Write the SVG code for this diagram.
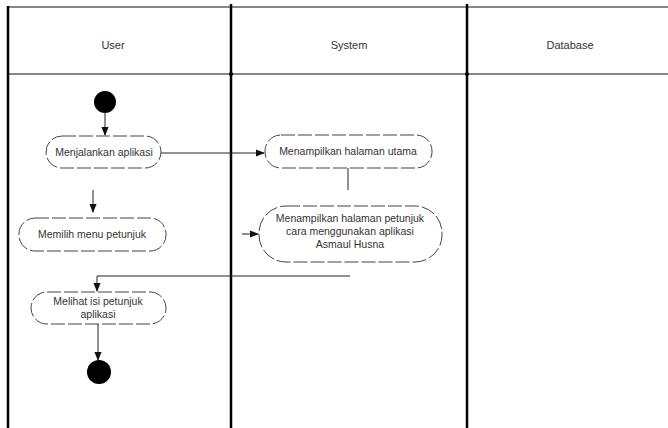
<svg xmlns="http://www.w3.org/2000/svg" width="668" height="428" viewBox="0 0 668 428">
<defs>
<style>
.lane{stroke:#000;stroke-width:2.5;fill:none}
.hl{stroke:#111;stroke-width:1.2;fill:none}
.hdr{font-family:"Liberation Sans",Arial,sans-serif;font-size:11px;fill:#333;text-anchor:middle}
.act{fill:#fff;stroke:#444;stroke-width:1;stroke-dasharray:14 3}
.lbl{font-family:"Liberation Sans",Arial,sans-serif;font-size:10.5px;fill:#333;text-anchor:middle}
.edge{stroke:#222;stroke-width:1;fill:none}
.dot{fill:#000}
</style>
<marker id="arr" viewBox="0 0 10 10" refX="9" refY="5" markerWidth="9" markerHeight="9" orient="auto" markerUnits="userSpaceOnUse">
<path d="M0,1 L10,5 L0,9 z" fill="#111"/>
</marker>
</defs>
<rect width="668" height="428" fill="#fff"/>
<g id="lanes">
<line class="hl" x1="8" y1="7" x2="668" y2="7"/>
<line class="hl" x1="8" y1="74" x2="668" y2="74"/>
<line class="lane" x1="8" y1="6" x2="8" y2="428" stroke-width="2"/>
<line class="lane" x1="231" y1="4" x2="231" y2="428"/>
<line class="lane" x1="467" y1="4" x2="467" y2="428"/>
<circle cx="231" cy="74" r="2" class="dot"/>
<circle cx="467" cy="74" r="2" class="dot"/>
<text class="hdr" x="113" y="49">User</text>
<text class="hdr" x="349" y="49">System</text>
<text class="hdr" x="570" y="49">Database</text>
</g>
<g id="connectors">
<line class="edge" x1="105" y1="113" x2="105" y2="135" marker-end="url(#arr)"/>
<line class="edge" x1="161" y1="153" x2="264" y2="153" marker-end="url(#arr)"/>
<line class="edge" x1="348" y1="168" x2="348" y2="190"/>
<line class="edge" x1="93" y1="190" x2="93" y2="212" marker-end="url(#arr)"/>
<line class="edge" x1="242" y1="234" x2="258" y2="234" marker-end="url(#arr)"/>
<polyline class="edge" points="350,276 97,276 97,291" marker-end="url(#arr)"/>
<line class="edge" x1="98" y1="324" x2="98" y2="360" marker-end="url(#arr)"/>
</g>
<g id="start"><circle cx="105" cy="102" r="11" class="dot"/></g>
<g id="n1">
<rect class="act" x="46" y="136" width="115" height="32" rx="16"/>
<text class="lbl" x="104" y="156">Menjalankan aplikasi</text>
</g>
<g id="n2">
<rect class="act" x="265" y="135" width="167" height="33" rx="16"/>
<text class="lbl" x="348" y="155">Menampilkan halaman utama</text>
</g>
<g id="n3">
<rect class="act" x="19" y="218" width="147" height="33" rx="16"/>
<text class="lbl" x="92" y="238">Memilih menu petunjuk</text>
</g>
<g id="n4">
<rect class="act" x="259" y="206" width="183" height="56" rx="27"/>
<text class="lbl" x="350" y="222">Menampilkan halaman petunjuk</text>
<text class="lbl" x="350" y="235">cara menggunakan aplikasi</text>
<text class="lbl" x="350" y="248">Asmaul Husna</text>
</g>
<g id="n5">
<rect class="act" x="31" y="292" width="135" height="32" rx="16"/>
<text class="lbl" x="98" y="305">Melihat isi petunjuk</text>
<text class="lbl" x="98" y="318">aplikasi</text>
</g>
<g id="end"><circle cx="99" cy="372" r="12" class="dot"/></g>
</svg>
